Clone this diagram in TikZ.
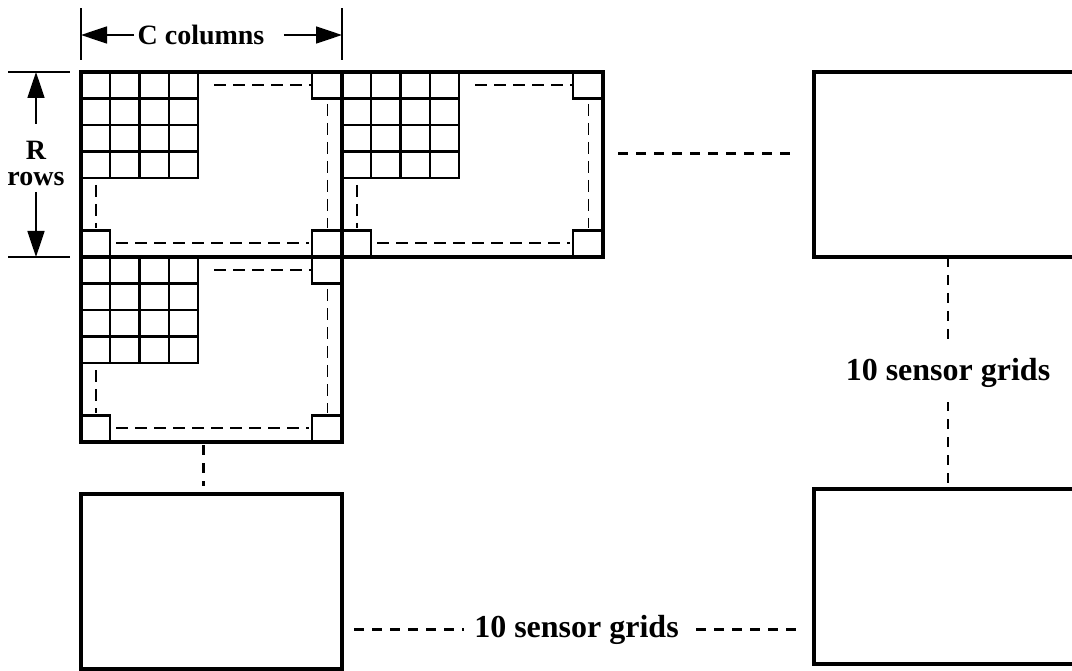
\documentclass[tikz,border=0pt]{standalone}
\usepackage{fontspec}
\setmainfont{Liberation Serif}
\usetikzlibrary{arrows.meta, positioning, calc}

\begin{document}
\begin{tikzpicture}[
  x=1pt, y=-1pt,
  node distance=0pt,
  gridbox/.style={rectangle, draw=black, line width=3.2pt, minimum width=261pt,
                  minimum height=185pt, inner sep=0pt, outer sep=0pt},
  plainbox/.style={gridbox, minimum height=175pt},
  cell/.style={draw=black, line width=2.2pt},
  trace/.style={line width=1.8pt, dash pattern=on 12pt off 7pt},
  link/.style={line width=2.4pt, dash pattern=on 10pt off 8pt},
  tick/.style={line width=1.6pt},
  dimarrow/.style={-{Triangle[length=26pt,width=17pt]}, line width=1.6pt},
  tag/.style={font=\fontsize{32}{34}\selectfont\bfseries, fill=white,
              inner xsep=10pt, inner ysep=14pt},
  dimtext/.style={font=\fontsize{28}{26}\selectfont\bfseries, align=center},
  pics/cells/.style={code={
    % 4x4 sensors in the top left corner
    \foreach \i in {0,...,3}
      \foreach \j in {0,...,3}
        \draw[cell] (\i*29.25,\j*26.5) rectangle ++(29.25,26.5);
    % corner sensors
    \draw[cell] (231,0) rectangle (261,26.5);
    \draw[cell] (0,158.5) rectangle (29.25,185);
    \draw[cell] (231,158.5) rectangle (261,185);
    % scan path
    \draw[trace] (133,13) -- (231,13);
    \draw[trace] (246.5,32) -- (246.5,156);
    \draw[trace] (35,171) -- (228,171);
    \draw[trace] (15,113) -- (15,156);
  }}
]
\useasboundingbox (0,0) rectangle (1072,671);

% sensor grids
\node[gridbox] (g1) at (211.5,164.5) {};
\node[gridbox, right=of g1] (g2) {};
\node[gridbox, below=of g1] (g3) {};
\node[gridbox, right=211pt of g2] (r1) {};
\node[plainbox, below=232pt of r1] (r2) {};
\node[plainbox, below=52pt of g3] (b1) {};

\pic at (g1.north west) {cells};
\pic at (g2.north west) {cells};
\pic at (g3.north west) {cells};

% C columns
\draw[tick] ($(g1.north west)+(0,-12)$) -- ($(g1.north west)+(0,-64)$);
\draw[tick] ($(g1.north east)+(0,-12)$) -- ($(g1.north east)+(0,-64)$);
\coordinate (cl) at ($(g1.north west)+(0,-37)$);
\coordinate (cr) at ($(g1.north east)+(0,-37)$);
\node[dimtext] (ctext) at (201,35) {C columns};
\draw[dimarrow] (ctext.west) -- (cl);
\draw[dimarrow] ($(ctext.east)+(16,0)$) -- (cr);

% R rows
\draw[tick] ($(g1.north west)+(-73,0)$) -- ($(g1.north west)+(-11,0)$);
\draw[tick] ($(g1.south west)+(-73,0)$) -- ($(g1.south west)+(-11,0)$);
\coordinate (rt) at ($(g1.north west)+(-45,0)$);
\coordinate (rb) at ($(g1.south west)+(-45,0)$);
\node[dimtext] (rtext) at (36,163) {R\\rows};
\draw[dimarrow] ($(rt)+(0,52)$) -- (rt);
\draw[dimarrow] ($(rb)+(0,-65)$) -- (rb);

% dashed links
\draw[link] ($(g2.east)+(15,-11)$) -- ($(g2.east -| r1.west)+(-17,-11)$);
\draw[link] ($(r1.south)+(3.5,0)$) -- node[tag] {10 sensor grids} ($(r2.north)+(3.5,0)$);
\draw[link] ($(g3.south)+(-8,3)$) -- ($(b1.north)+(-8,-8)$);
\draw[link] ($(b1.east)+(12,48)$) -- node[tag] {10 sensor grids} ($(b1.east -| r2.west)+(-15,48)$);
\end{tikzpicture}
\end{document}
